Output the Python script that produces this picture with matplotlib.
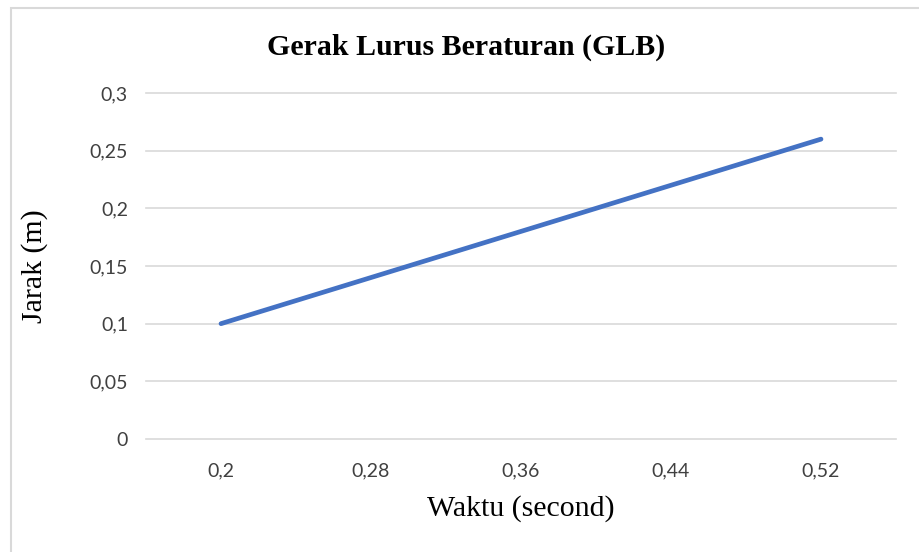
import matplotlib.pyplot as plt
from matplotlib.patches import Rectangle

# data
waktu = [0.2, 0.28, 0.36, 0.44, 0.52]
waktu_labels = ['0,2', '0,28', '0,36', '0,44', '0,52']
jarak = [0.1, 0.14, 0.18, 0.22, 0.26]
y_ticks = [0, 0.05, 0.1, 0.15, 0.2, 0.25, 0.3]
y_labels = ['0', '0,05', '0,1', '0,15', '0,2', '0,25', '0,3']

W, H = 919, 552
fig = plt.figure(figsize=(W / 100, H / 100), dpi=100)

# chart border (cut off on right/bottom like the screenshot)
fig.patches.append(Rectangle((11 / W, -0.1), 1.2, (H - 8) / H + 0.1,
                             transform=fig.transFigure, fill=False,
                             edgecolor='#D9D9D9', linewidth=1.5))

ax = fig.add_axes([146 / W, (H - 439) / H, (896 - 146) / W, (439 - 93) / H])
x = list(range(len(waktu)))
ax.plot(x, jarak, color='#4472C4', linewidth=3.4, solid_capstyle='round', zorder=3)

ax.set_xlim(-0.5, len(waktu) - 0.5)
ax.set_ylim(0, 0.3)
ax.set_xticks(x)
ax.set_xticklabels(waktu_labels)
ax.set_yticks(y_ticks)
ax.set_yticklabels(y_labels)
ax.tick_params(length=0, labelsize=14, colors='#404040')
ax.tick_params(axis='y', pad=13)
ax.tick_params(axis='x', pad=17)
for lab in ax.get_xticklabels() + ax.get_yticklabels():
    lab.set_family('Lato')
for v in y_ticks:
    ax.axhline(v, color='#D9D9D9', linewidth=1.2, clip_on=False, zorder=1)
for s in ax.spines.values():
    s.set_visible(False)

fig.text(466 / W, 1 - 47 / H, 'Gerak Lurus Beraturan (GLB)', ha='center', va='center',
         family='Liberation Serif', weight='bold', fontsize=21.5)
fig.text(521 / W, 1 - 509 / H, 'Waktu (second)', ha='center', va='center',
         family='Liberation Serif', fontsize=21.5)
fig.text(35 / W, 1 - 266 / H, 'Jarak (m)', ha='center', va='center', rotation=90,
         family='Liberation Serif', fontsize=21.5)

fig.savefig('out.png', dpi=100)
